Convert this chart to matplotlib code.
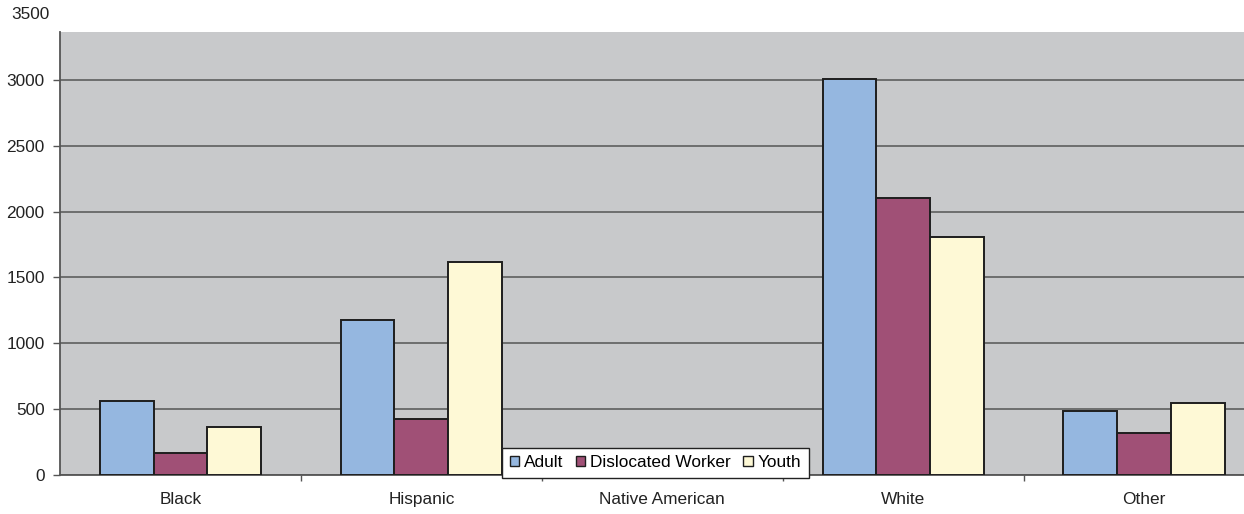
import matplotlib
matplotlib.use("Agg")
import matplotlib.pyplot as plt
import numpy as np

categories = ["Black", "Hispanic", "Native American", "White", "Other"]
series_names = ["Adult", "Dislocated Worker", "Youth"]
adult = [562, 1175, 0, 3010, 484]
dislocated = [165, 423, 0, 2101, 316]
youth = [362, 1615, 0, 1805, 544]
yticks = [0, 500, 1000, 1500, 2000, 2500, 3000]

colors = ["#95b7e0", "#a05076", "#fef9d6"]
FS = 12.4

plt.rcParams['font.family'] = ['Liberation Sans', 'DejaVu Sans']

fig = plt.figure(figsize=(12.44, 5.14), dpi=100)
fig.patch.set_facecolor("white")
ax = fig.add_axes([60/1244, 39/514, 1204.5/1244, 443/514])
ax.set_facecolor("#c8c9cb")

x = np.arange(len(categories))
w = 0.223
for i, (vals, name) in enumerate(zip([adult, dislocated, youth], series_names)):
    ax.bar(x + (i - 1) * w, vals, width=w, color=colors[i], edgecolor="#1e1e1e",
           linewidth=1.4, label=name, zorder=3)

ax.set_xlim(-0.5, len(categories) - 0.5)
ax.set_ylim(0, 3364)
ax.set_yticks(yticks)
ax.set_yticklabels([str(v) for v in yticks])
ax.yaxis.grid(True, color="#555555", linewidth=1.1, zorder=1)
ax.set_axisbelow(True)

ax.set_xticks(x)
ax.set_xticklabels(categories)
ax.set_xticks(np.arange(len(categories)) + 0.5, minor=True)
ax.tick_params(axis='x', which='major', length=0, pad=12, labelsize=FS, colors="#222222")
ax.tick_params(axis='x', which='minor', length=4, width=1, color="#555555", direction='out')
ax.tick_params(axis='y', length=5, width=1, color="#555555", pad=6, labelsize=FS, labelcolor="#222222")

for s in ["top", "right"]:
    ax.spines[s].set_visible(False)
for s in ["left", "bottom"]:
    ax.spines[s].set_color("#555555")
    ax.spines[s].set_linewidth(1.3)

ax.annotate("3500", xy=(0, 3500), xycoords=('axes fraction', 'data'),
            xytext=(-7.6, 0), textcoords='offset points', ha='right', va='center',
            fontsize=FS, color="#222222", annotation_clip=False)

leg = fig.legend(loc='lower left', bbox_to_anchor=(502/1244, 36/514), ncol=3,
                 frameon=True, fancybox=False, edgecolor="#222222", framealpha=1,
                 handlelength=0.55, handleheight=0.55, handletextpad=0.3,
                 columnspacing=0.7, borderpad=0.45, fontsize=FS, borderaxespad=0)
leg.get_frame().set_linewidth(1.0)
for h in leg.legend_handles:
    h.set_linewidth(1.0)

fig.savefig("out.png", dpi=100)
